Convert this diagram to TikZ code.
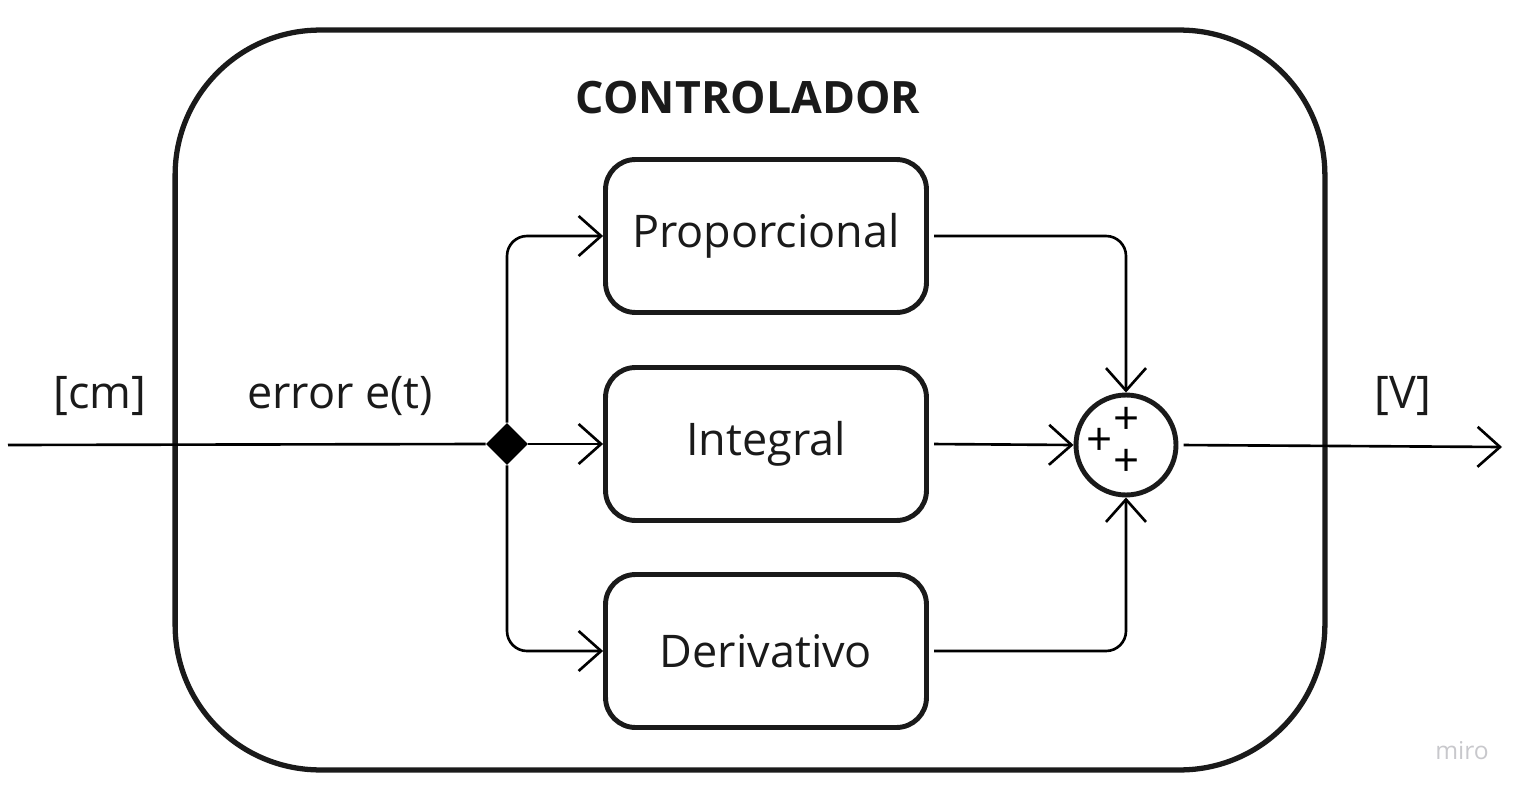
\documentclass[tikz,border=0pt]{standalone}
\usepackage{fontspec}
\setmainfont{Open Sans}
\usepackage{tikz}
\usetikzlibrary{
    arrows.meta,
    shapes.geometric,
    positioning,
    calc
}
\definecolor{ink}{HTML}{1A1A1A}
\definecolor{mirogray}{HTML}{C8C8CC}
\tikzset{
    big/.style={font=\fontsize{25.6}{31}\selectfont, text=ink},
    block/.style={draw=ink, line width=2.8pt, rounded corners=0.6cm,
        minimum width=6.42cm, minimum height=3.06cm, big},
    conn/.style={draw=black, line width=1.5pt, rounded corners=0.4cm},
    barb/.style={-{Straight Barb[length=0.45cm, width=0.8cm]}},
    sign/.style={font=\fontsize{26}{30}\selectfont, inner sep=0pt}
}

\begin{document}
\begin{tikzpicture}[x=0.02cm, y=-0.02cm]
    \useasboundingbox (0,0) rectangle (1522,794);
    % controlador
    \node[draw=ink, line width=3pt, rounded corners=2.9cm,
        minimum width=23cm, minimum height=14.8cm] (ctl) at (750,400) {};
    \node[big, font=\fontsize{25.4}{31}\selectfont\bfseries] (title) at (748,98) {CONTROLADOR};
    % bloques
    \node[block] (prop) at (766,236) {Proporcional};
    \node[block] (integ) at (766,444) {Integral};
    \node[block] (deriv) at (766,651) {Derivativo};
    \node[draw=ink, circle, line width=2.8pt, minimum size=2cm] (sum) at (1126,445) {};
    \node[sign] (sp) at (1127,421) {+};
    \node[sign] (sl) at (1100,442) {+};
    \node[sign] (sd) at (1127,463) {+};
    \node[diamond, fill=black, inner sep=0pt, minimum size=0.84cm] (split) at (507,444) {};
    % textos
    \node[big] (cm) at (100,396) {[cm]};
    \node[big] (err) at (340,396) {error e(t)};
    \node[big] (volt) at (1403,396) {[V]};
    \node[text=mirogray, font=\fontsize{14}{16}\selectfont] (miro) at (1462,751) {miro};
    \coordinate (in) at (8,445);
    \coordinate (out) at (1502,447);
    % conexiones
    \draw[conn]
    (in) -- (split.west);
    \draw[conn, barb] (split.north) |- (prop.west);
    \draw[conn, barb] (split.east) -- (integ.west);
    \draw[conn, barb] (split.south) |- (deriv.west);
    \draw[conn, barb, shorten <=3pt] (prop.east) -| (sum.north);
    \draw[conn, barb, shorten <=3pt] (integ.east) -- (sum.west);
    \draw[conn, barb, shorten <=3pt] (deriv.east) -| (sum.south);
    \draw[conn, barb, shorten <=3pt] (sum.east) -- (out);
\end{tikzpicture}
\end{document}
